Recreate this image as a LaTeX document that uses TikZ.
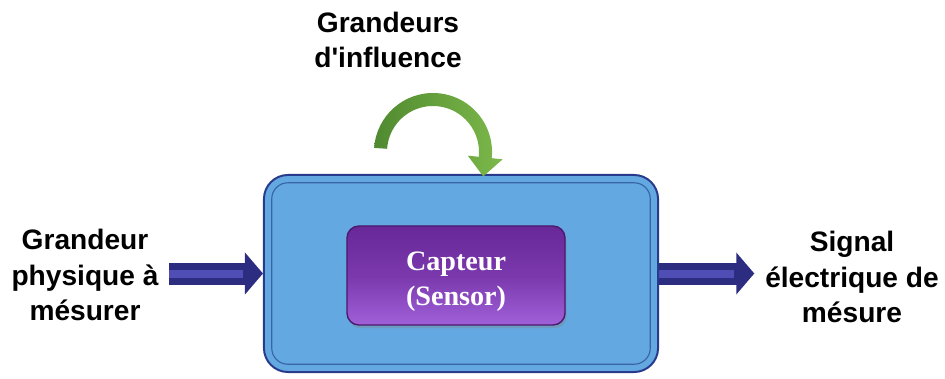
\documentclass[tikz,border=0pt]{standalone}
\usepackage{fontspec}
\setmainfont{Liberation Serif}
\setsansfont{Liberation Sans}
\usetikzlibrary{arrows.meta,shadows,calc}

\definecolor{boxblue}{RGB}{99,168,225}
\definecolor{rimblue}{RGB}{40,58,140}
\definecolor{innerrim}{RGB}{55,100,165}
\definecolor{capviolet}{RGB}{122,56,172}
\definecolor{capvioletdark}{RGB}{104,40,152}
\definecolor{capvioletlight}{RGB}{160,96,216}
\definecolor{capborder}{RGB}{75,25,110}
\definecolor{arrownavy}{RGB}{44,44,128}
\definecolor{arrowlight}{RGB}{78,78,180}
\definecolor{leafdark}{RGB}{80,138,48}
\definecolor{leaflight}{RGB}{124,184,74}

\tikzset{every picture/.style={>=latex}}

\begin{document}
\begin{tikzpicture}[
    x=0.025cm, y=0.025cm,
    label/.style={font=\sffamily\bfseries\fontsize{20}{25}\selectfont, align=center},
    system/.style={draw=rimblue, line width=1.4pt, fill=boxblue,
        rounded corners=0.6cm, minimum width=9.85cm, minimum height=4.925cm},
    sensor/.style={draw=capborder, line width=1pt, rounded corners=0.3cm,
        top color=capvioletdark, bottom color=capvioletlight, middle color=capviolet,
        minimum width=5.45cm, minimum height=2.475cm,
        drop shadow={opacity=0.35, shadow xshift=0.04cm, shadow yshift=-0.08cm}},
    sensortext/.style={text=white, align=center, font=\bfseries\fontsize{20}{25}\selectfont},
    flow/.style={arrownavy, line width=0.55cm, -{Triangle[width=1.025cm, length=0.45cm]}},
    flowshine/.style={arrowlight, line width=0.2cm, shorten >=0.5cm}
]
    \useasboundingbox (0,0) rectangle (945,378);

    % the measuring system
    \node[system] (sys) at (461,104.5) {};
    \draw[innerrim, line width=0.8pt, rounded corners=0.4cm]
        ([shift={(0.22cm,0.22cm)}]sys.south west) rectangle
        ([shift={(-0.22cm,-0.22cm)}]sys.north east);
    \node[sensor] (cap) at (456,102.5) {};
    \node[sensortext] (captxt) at ([yshift=-0.15cm]cap.center) {Capteur\\(Sensor)};

    % labels
    \node[label] (lin) at (85,103) {Grandeur\\physique à\\mésurer};
    \node[label] (lout) at (852,101) {Signal\\électrique de\\mésure};
    \node[label] (linf) at (388,338) {Grandeurs\\d\textquotesingle influence};

    % input and output
    \draw[flow, shorten <=0.15cm] (sys.west -| lin.east) -- (sys.west);
    \draw[flowshine, shorten <=0.15cm] (sys.west -| lin.east) -- (sys.west);
    \draw[flow, shorten >=0.15cm] (sys.east) -- (sys.east -| lout.west);
    \draw[flowshine, shorten >=0.65cm] (sys.east) -- (sys.east -| lout.west);

    % influence arrow
    \coordinate (bend) at (433,226);
    \shade[left color=leafdark, right color=leaflight]
        ($(bend)+(176:59)$) arc[start angle=176, end angle=-6, radius=1.475cm]
        -- ($(bend)+(-6:70)$) -- ($(bend)+(-6:52.5)+(-96:19)$)
        -- ($(bend)+(-6:35)$) -- ($(bend)+(-6:46)$)
        arc[start angle=-6, end angle=176, radius=1.15cm] -- cycle;
\end{tikzpicture}
\end{document}
